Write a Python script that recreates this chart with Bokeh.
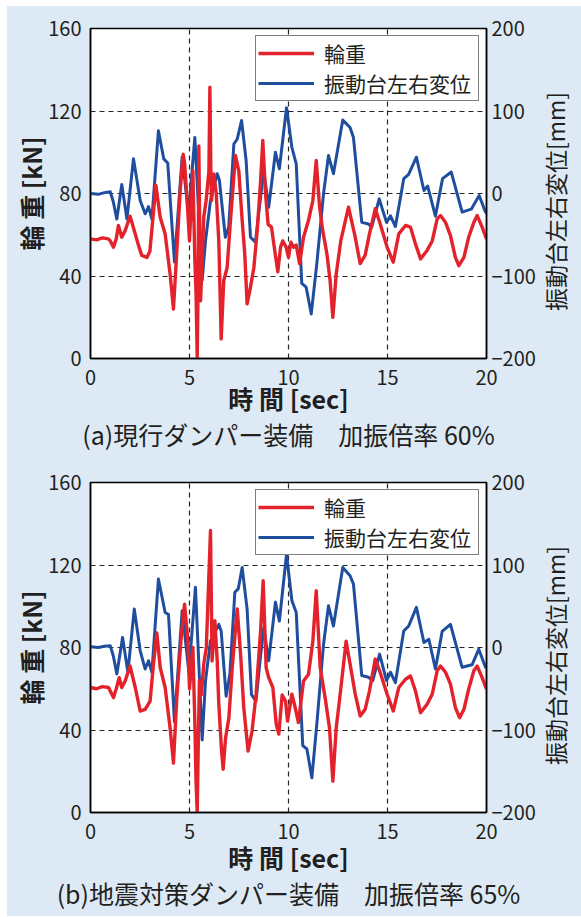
import math
from bokeh.plotting import figure
from bokeh.models import (Range1d, LinearAxis, FixedTicker, Legend, LegendItem,
                          Title, ColumnDataSource, Label)
from bokeh.layouts import column, row
from bokeh.embed import file_html
from bokeh.resources import INLINE

# ---------------- data ----------------
x_ticks = [0, 5, 10, 15, 20]
load_ticks = [0, 40, 80, 120, 160]
disp_ticks = [-200, -100, 0, 100, 200]
disp_tick_labels = {-200: "\u2212200", -100: "\u2212100", 0: "0", 100: "100", 200: "200"}

legend_labels = ["輪重", "振動台左右変位"]
captions = ["(a)現行ダンパー装備\u3000加振倍率 60%", "(b)地震対策ダンパー装備\u3000加振倍率 65%"]
x_label = "時 間 [sec]"
y_label_left = "輪 重 [kN]"
y_label_right = "振動台左右変位[mm]"

# (a) wheel load [kN]
a_load_t = [0.0, 0.3, 0.6, 0.9, 1.0, 1.16, 1.3, 1.41, 1.58, 1.75, 2.0, 2.26, 2.45, 2.59, 2.85, 3.0,
            3.18, 3.3, 3.52, 3.77, 4.02, 4.19, 4.36, 4.53, 4.68, 4.75, 4.88, 5.0, 5.17, 5.27, 5.33,
            5.39, 5.44, 5.47, 5.52, 5.56, 5.64, 5.72, 5.84, 5.98, 6.03, 6.08, 6.11, 6.23, 6.35,
            6.48, 6.6, 6.73, 6.9, 7.07, 7.32, 7.49, 7.66, 7.79, 7.91, 8.08, 8.25, 8.42, 8.59, 8.7,
            8.84, 8.97, 9.14, 9.31, 9.46, 9.6, 9.71, 9.88, 10.0, 10.12, 10.25, 10.39, 10.56, 10.76,
            11.01, 11.23, 11.4, 11.57, 11.73, 11.94, 12.1, 12.24, 12.41, 12.64, 13.03, 13.37,
            13.62, 13.87, 14.09, 14.38, 14.63, 14.98, 15.29, 15.57, 15.91, 16.16, 16.41, 16.67,
            17.0, 17.26, 17.51, 17.68, 17.93, 18.18, 18.43, 18.6, 18.86, 19.1, 19.36, 19.53,
            19.78, 20.0]
a_load = [58, 57.5, 58.5, 58, 57, 54, 58, 64.5, 58.8, 62, 69, 60.4, 54, 50, 49, 52,
          71, 84, 68.5, 60.4, 41, 24, 52, 81.5, 99, 95, 76.6, 57, 91, 47.5, 31.5,
          0.5, 40, 103, 60, 28, 47.5, 68.5, 76.6, 91, 131.5, 90, 76.6, 89.5, 80,
          57, 9.5, 37.8, 44, 67, 98.4, 91, 67, 50.8, 26.5, 34.6, 44, 62, 86, 105.7,
          80, 65, 63.7, 52, 42, 54, 57, 54, 49, 56.4, 54, 55, 46, 58.8,
          67, 76.6, 96, 73.4, 62, 50.8, 37.8, 20, 41, 57, 73.4, 58.8,
          46, 50, 60.4, 72.6, 65.3, 54, 46.7, 60.4, 64.5, 63.7, 55.6, 48.3,
          52.4, 57, 67.7, 69.3, 66, 59.6, 49, 45, 49, 58.8, 66, 69.3,
          63.7, 58]

# (a) shake-table displacement [mm]
a_disp_t = [0.0, 0.4, 0.7, 1.0, 1.15, 1.33, 1.58, 1.84, 2.17, 2.51, 2.76, 2.93, 3.1, 3.43, 3.7,
            3.9, 4.24, 4.63, 4.95, 5.27, 5.64, 5.81, 6.06, 6.4, 6.51, 6.81, 6.98, 7.24, 7.41,
            7.63, 7.86, 8.08, 8.33, 8.59, 8.75, 9.0, 9.34, 9.54, 9.9, 10.17, 10.39, 10.67,
            10.89, 11.15, 11.43, 11.77, 12.02, 12.27, 12.74, 13.11, 13.28, 13.7, 14.04, 14.2,
            14.58, 14.95, 15.15, 15.4, 15.82, 16.06, 16.46, 16.84, 17.03, 17.42, 17.78, 18.22,
            18.77, 19.23, 19.63, 19.95, 20.0]
a_disp = [0, -1, 1, 2, -10, -31, 11, -31, 42, -8.5, -24.6, -15.8, -31, 76, 42,
          37, -83, 44, -24, 68, -105, -57, -8.5, 24, 16, -53, -41, 60, 66,
          88.5, 40, -53, -59, -4.5, 28, -16.6, 50, 30, 104, 56, 36, -109,
          -113.5, -146, -85, 0, 46, 24, 89, 80, 68, -35, -37, -41,
          -6.5, -35, -27, -40, 18, 23, 44, 3.6, 9, -27.5, 18, 26,
          -22.6, -19, -2.4, -22.6, -24]

# (b) wheel load [kN]
b_load_t = [0.0, 0.3, 0.6, 0.91, 1.16, 1.3, 1.45, 1.58, 1.75, 2.0, 2.26, 2.51, 2.76, 3.01, 3.18,
            3.35, 3.52, 3.77, 4.02, 4.19, 4.36, 4.58, 4.75, 4.92, 5.0, 5.17, 5.27, 5.33, 5.39,
            5.44, 5.5, 5.6, 5.72, 5.85, 6.06, 6.14, 6.28, 6.4, 6.48, 6.62, 6.7, 6.82, 6.99,
            7.16, 7.41, 7.58, 7.74, 7.96, 8.16, 8.36, 8.59, 8.72, 8.87, 9.0, 9.21, 9.38, 9.51,
            9.68, 9.85, 9.95, 10.17, 10.34, 10.5, 10.76, 11.01, 11.23, 11.4, 11.6, 11.85, 12.07,
            12.24, 12.41, 12.61, 12.91, 13.11, 13.37, 13.62, 13.87, 14.09, 14.38, 14.63, 14.98,
            15.29, 15.57, 15.91, 16.16, 16.41, 16.67, 17.0, 17.26, 17.51, 17.68, 17.93, 18.18,
            18.43, 18.64, 18.86, 19.1, 19.36, 19.53, 19.78, 20.0]
b_load = [60.6, 60, 61, 60.6, 55.7, 60, 65.4, 60.6, 63.8, 71, 60.6, 49.2, 50, 54, 72,
          87, 70.3, 60.6, 41, 24, 55.7, 84.9, 101, 83, 60, 80, 44, 15, 0,
          31.4, 64, 57, 72, 80, 136.7, 73.5, 93, 73.5, 52.5, 29.8, 21, 36, 46,
          70.3, 98.7, 76.8, 51, 29.8, 39.5, 57, 88, 112.4, 70.3, 65.4, 60.6, 42.8, 38,
          57, 54, 44.4, 57.4, 50.8, 43.6, 63.8, 67, 83, 107.5, 70.3, 55.7, 41,
          15.2, 41, 57.4, 83, 72, 57.4, 46.8, 50, 59, 74.4, 67.9, 57.4,
          49.2, 60.6, 64.6, 66.2, 59, 48.4, 52.5, 57.4, 68.7, 71, 68, 62.2,
          50.8, 46, 50, 59.8, 68.7, 71, 65.4, 59.8]

# (b) shake-table displacement [mm]
b_disp_t = [0.0, 0.4, 0.7, 1.0, 1.15, 1.33, 1.62, 1.89, 2.21, 2.51, 2.76, 2.93, 3.1, 3.43, 3.77,
            3.94, 4.24, 4.63, 4.97, 5.3, 5.64, 5.81, 6.06, 6.48, 6.6, 6.85, 7.04, 7.29, 7.46,
            7.66, 7.91, 8.13, 8.36, 8.58, 8.75, 9.0, 9.34, 9.54, 9.9, 10.17, 10.39, 10.72,
            10.93, 11.18, 11.43, 11.77, 12.02, 12.27, 12.74, 13.11, 13.28, 13.7, 14.04, 14.26,
            14.6, 14.95, 15.15, 15.4, 15.82, 16.07, 16.46, 16.84, 17.09, 17.42, 17.76, 18.18,
            18.77, 19.27, 19.61, 19.95, 20.0]
b_disp = [1, 0, 1.5, 2, -10, -32, 12, -30, 46.6, -4, -26, -16, -30, 83, 42.5,
          40, -90, 44.6, -30, 73, -112, -40, 8, 28, 20, -59, -32, 67, 71,
          97, 46.6, -57, -65, -12, 24, -16, 55, 32, 113, 57, 42.5, -119,
          -123, -158, -93, 4, 50.6, 26, 97, 87, 77, -34, -36, -40,
          -8, -40, -30, -42.5, 20, 26, 48.6, 6, 10, -26, 19.5, 28,
          -24, -21, -2, -24, -25]

# ---------------- style ----------------
FONT = "Noto Sans CJK JP"
BG = "#ddeaf6"
TXT = "#231f20"
RED = "#e3222b"
BLUE = "#1f4e9e"
FRAME_H = 330
PANEL_H = 455
MAIN_W = 532
SIDE_W = 42


def make_panel(load_t, load, disp_t, disp, caption, top, xlab_standoff):
    bottom = PANEL_H - top - FRAME_H
    p = figure(width=MAIN_W, height=PANEL_H,
               x_range=Range1d(0, 20), y_range=Range1d(0, 160),
               output_backend="svg", toolbar_location=None,
               min_border_left=83, min_border_right=MAIN_W - 83 - 396,
               min_border_top=top, min_border_bottom=bottom,
               background_fill_color="white", border_fill_color=BG,
               outline_line_color="black", outline_line_width=1.5)
    p.extra_y_ranges = {"mm": Range1d(-200, 200)}

    # axes
    p.xaxis.ticker = FixedTicker(ticks=x_ticks)
    p.yaxis.ticker = FixedTicker(ticks=load_ticks)
    p.xaxis.axis_label = x_label
    p.yaxis.axis_label = y_label_left
    right = LinearAxis(y_range_name="mm", ticker=FixedTicker(ticks=disp_ticks),
                       major_label_overrides=disp_tick_labels)
    p.add_layout(right, "right")

    for ax in [p.xaxis[0], p.yaxis[0], right]:
        ax.axis_line_color = "black"
        ax.axis_line_width = 1.5
        ax.major_tick_in = 0
        ax.major_tick_out = 0
        ax.minor_tick_in = 0
        ax.minor_tick_out = 0
        ax.major_label_text_font = FONT
        ax.major_label_text_font_size = "20px"
        ax.major_label_text_color = TXT
        ax.axis_label_text_font = FONT
        ax.axis_label_text_color = TXT
    p.xaxis.major_label_standoff = 11
    p.yaxis.major_label_standoff = 9
    right.major_label_standoff = 5
    p.xaxis.axis_label_text_font_size = "25px"
    p.xaxis.axis_label_text_font_style = "bold"
    p.xaxis.axis_label_standoff = xlab_standoff
    p.yaxis.axis_label_text_font_size = "25px"
    p.yaxis.axis_label_text_font_style = "bold"
    p.yaxis.axis_label_standoff = -4

    # grid
    for g in [p.xgrid[0], p.ygrid[0]]:
        g.grid_line_color = "black"
        g.grid_line_dash = "5 4"
        g.grid_line_width = 1.2
        g.grid_line_alpha = 0.85
    p.xgrid.ticker = FixedTicker(ticks=x_ticks)
    p.ygrid.ticker = FixedTicker(ticks=load_ticks)

    # lines
    src_b = ColumnDataSource(dict(t=disp_t, v=disp))
    src_r = ColumnDataSource(dict(t=load_t, v=load))
    rb = p.line("t", "v", source=src_b, y_range_name="mm", line_color=BLUE,
                line_width=3, line_join="round")
    rr = p.line("t", "v", source=src_r, line_color=RED, line_width=3.4,
                line_join="round")

    legend = Legend(items=[LegendItem(label=legend_labels[0], renderers=[rr]),
                           LegendItem(label=legend_labels[1], renderers=[rb])],
                    location="top_right", margin=7, padding=2, spacing=-11,
                    label_text_font=FONT, label_text_font_size="21px",
                    label_text_color=TXT, label_height=24, glyph_height=24,
                    glyph_width=56, label_standoff=10, label_width=152,
                    border_line_color="black", border_line_width=1.2,
                    background_fill_color="white", background_fill_alpha=1.0)
    p.add_layout(legend)

    title = Title(text=caption, align="center", text_font=FONT,
                  text_font_size="25px", text_font_style="normal",
                  text_color=TXT, standoff=-9, offset=0)
    p.add_layout(title, "below")

    # narrow strip on the right holding the right-hand axis title (reads bottom-to-top)
    s = figure(width=SIDE_W, height=PANEL_H,
               x_range=Range1d(0, 1), y_range=Range1d(0, 160),
               output_backend="svg", toolbar_location=None,
               x_axis_location=None, y_axis_location=None,
               min_border_left=0, min_border_right=0,
               min_border_top=top, min_border_bottom=bottom,
               background_fill_color=BG, border_fill_color=BG,
               outline_line_color=None)
    s.grid.visible = False
    s.add_layout(Label(x=0.5, y=load_ticks[2], x_offset=-6, y_offset=-8,
                       text=y_label_right, angle=math.pi / 2,
                       text_align="center", text_baseline="middle",
                       text_font=FONT, text_font_size="23px", text_color=TXT))
    return row(p, s, spacing=0, styles={"background-color": BG})


panel_a = make_panel(a_load_t, a_load, a_disp_t, a_disp, captions[0], 22, -8)
panel_b = make_panel(b_load_t, b_load, b_disp_t, b_disp, captions[1], 21, -3)

layout = column(panel_a, panel_b, spacing=0, margin=(6, 0, 0, 7),
                styles={"background-color": BG})
open("out.html", "w").write(file_html(layout, INLINE))
